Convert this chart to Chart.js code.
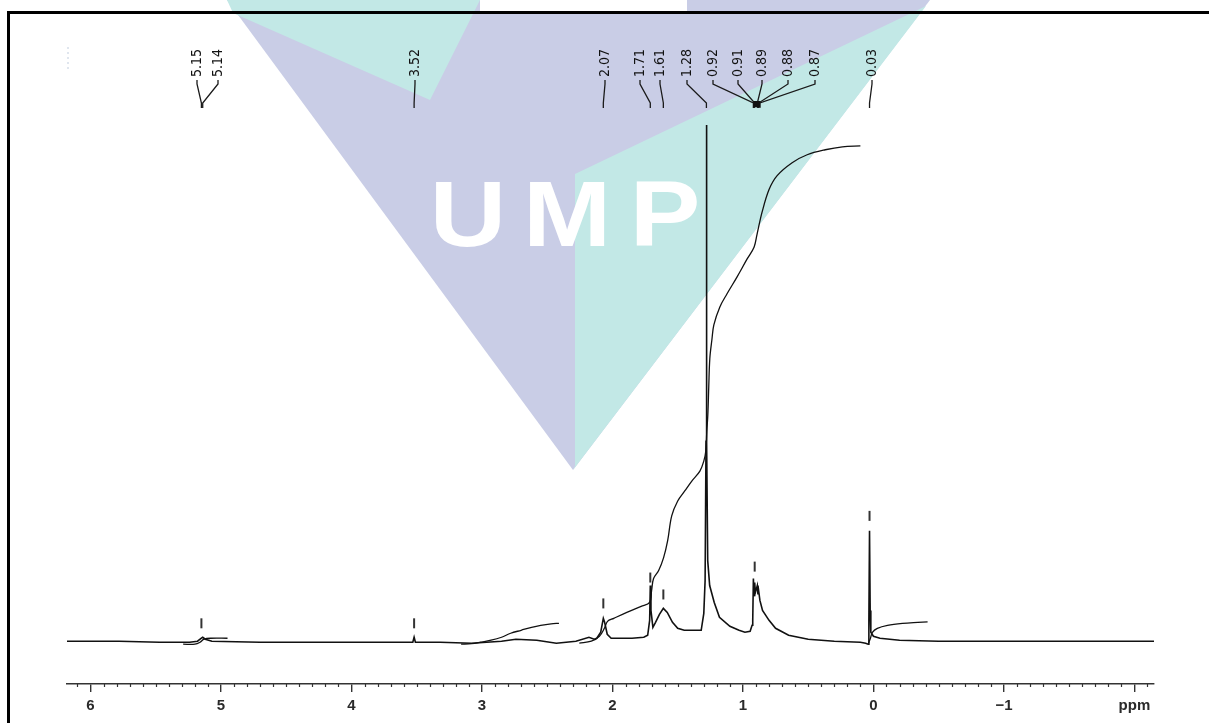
<!DOCTYPE html>
<html>
<head>
<meta charset="utf-8">
<script src="https://cdn.jsdelivr.net/npm/chart.js@4.4.1/dist/chart.umd.min.js"></script>
<style>
  html, body { margin: 0; padding: 0; background: #fff; }
  #wrap { position: relative; width: 1209px; height: 723px; }
  canvas { display: block; }
</style>
</head>
<body>
<div id="wrap"><canvas id="nmr" width="1209" height="723"></canvas></div>
<script>
// 1H NMR trace: chemical shift (ppm) and relative intensity
const shiftPpm = [
  6.18, 5.78, 5.47, 5.24, 5.18, 5.15, 5.14, 5.12, 5.07, 4.70, 4.16, 3.62,
  3.53, 3.52, 3.51, 3.32, 3.08, 2.85, 2.74, 2.58, 2.43, 2.28, 2.18, 2.14,
  2.12, 2.09, 2.07, 2.06, 2.04, 2.01, 1.95, 1.85, 1.76, 1.73, 1.715, 1.71,
  1.705, 1.69, 1.67, 1.64, 1.61, 1.58, 1.54, 1.50, 1.45, 1.38, 1.32, 1.30,
  1.29, 1.283, 1.28, 1.277, 1.27, 1.255, 1.22, 1.18, 1.10, 1.03, 0.985, 0.945,
  0.93, 0.925, 0.92, 0.915, 0.91, 0.905, 0.89, 0.885, 0.88, 0.87, 0.85, 0.80,
  0.75, 0.65, 0.50, 0.30, 0.10, 0.06, 0.04, 0.035, 0.03, 0.025, 0.02, 0.00,
  -0.05, -0.20, -0.50, -1.00, -1.50, -2.15
];
const intensity = [
  -0.1, -0.1, -0.2, -0.2, -0.1, 0.2, 0.3, 0.1, -0.1, -0.2, -0.2, -0.2,
  -0.2, 0.3, -0.2, -0.2, -0.3, -0.1, 0.1, 0.0, -0.3, -0.1, 0.3, 0.1,
  0.2, 0.8, 2.2, 1.8, 0.6, 0.2, 0.2, 0.2, 0.3, 0.5, 2.0, 5.5,
  3.0, 1.3, 1.8, 2.6, 3.2, 2.8, 1.8, 1.2, 1.0, 1.0, 1.0, 2.7,
  6.0, 20.0, 51.8, 20.0, 8.0, 5.5, 3.8, 2.3, 1.4, 1.0, 0.8, 0.9,
  1.5, 2.0, 6.2, 4.5, 5.8, 4.8, 5.5, 4.6, 5.0, 4.0, 3.0, 2.0,
  1.2, 0.5, 0.1, -0.1, -0.2, -0.3, -0.4, 2.0, 11.0, 3.0, 0.8, 0.4,
  0.2, 0.0, -0.1, -0.1, -0.1, -0.1
];

// Integral curves; null separates the integrated regions
const integralPpm = [
  5.29, 5.20, 5.16, 5.13, 5.08, 4.95, null,
  3.16, 3.08, 3.01, 2.93, 2.85, 2.78, 2.70, 2.62, 2.55, 2.47, 2.41, null,
  2.254, 2.162, 2.10, 2.062, 2.038, 1.99, 1.89, 1.78, 1.715, 1.70, 1.685, 1.646,
  1.608, 1.577, 1.546, 1.50, 1.446, 1.392, 1.33, 1.30, 1.285, 1.277, 1.269, 1.262,
  1.254, 1.238, 1.223, 1.177, 1.123, 1.046, 0.969, 0.915, 0.892, 0.854, 0.80, 0.738,
  0.623, 0.508, 0.369, 0.238, 0.10, null,
  0.038, 0.023, 0.008, -0.03, -0.108, -0.223, -0.34, -0.415
];
const integralValue = [
  -0.4, -0.4, -0.2, 0.1, 0.2, 0.2, null,
  -0.4, -0.35, -0.2, 0.0, 0.3, 0.7, 1.0, 1.3, 1.5, 1.65, 1.7, null,
  -0.3, -0.1, 0.4, 1.2, 1.9, 2.2, 2.8, 3.4, 3.8, 5.0, 6.2, 7.0,
  8.3, 10.0, 12.5, 14.0, 15.0, 16.0, 17.0, 18.0, 19.0, 21.0, 22.7, 25.5,
  28.3, 30.2, 31.7, 33.5, 34.8, 36.5, 38.3, 39.5, 40.8, 43.0, 45.3, 46.7,
  48.0, 48.8, 49.3, 49.6, 49.7, null,
  -0.3, 0.2, 0.8, 1.2, 1.5, 1.7, 1.8, 1.85
];

// Short peak-pick marks above the signals
const markPpm = [5.15, 3.52, 2.07, 1.71, 1.61, 0.91, 0.03];
const markLevel = [1.7, 1.7, 3.7, 6.3, 4.6, 7.4, 12.5];

// Picked peak labels
const peakLabels = ['5.15', '5.14', '3.52', '2.07', '1.71', '1.61', '1.28',
                    '0.92', '0.91', '0.89', '0.88', '0.87', '0.03'];

// Axis tick values (the last one carries the unit)
const tickValues = [6, 5, 4, 3, 2, 1, 0, -1, -2];
const tickText = ['6', '5', '4', '3', '2', '1', '0', '\u22121', 'ppm'];

// Layout of the label row: horizontal text centres in pixels
const labelTextX = [197, 218, 415, 605, 640, 660, 687, 713, 738, 762, 788, 815, 872];
const groupedLabels = ['0.92', '0.91', '0.89', '0.88', '0.87'];

const LAVENDER = '#c9cde6';
const TEAL = '#c2e8e6';

// Watermark logo behind the plot
const watermark = {
  id: 'watermark',
  beforeDraw(chart) {
    const ctx = chart.ctx;
    ctx.save();
    const poly = (pts, color) => {
      ctx.beginPath();
      ctx.moveTo(pts[0][0], pts[0][1]);
      for (let i = 1; i < pts.length; i++) ctx.lineTo(pts[i][0], pts[i][1]);
      ctx.closePath();
      ctx.fillStyle = color;
      ctx.fill();
    };
    poly([[227, 0], [930, 0], [573, 470]], LAVENDER);
    poly([[480, 0], [687, 0], [687, 11], [480, 11]], '#ffffff');
    poly([[227, 0], [480, 0], [430, 100], [233, 13]], TEAL);
    poly([[575, 174], [926, 6], [573, 470], [575, 466]], TEAL);
    ctx.fillStyle = '#ffffff';
    ctx.textAlign = 'center';
    ctx.textBaseline = 'alphabetic';
    ctx.font = 'bold 92px "Liberation Sans", Arial, sans-serif';
    [['U', 468], ['M', 567], ['P', 665]].forEach(([ch, x]) => {
      ctx.save();
      ctx.translate(x, 246);
      ctx.scale(1.15, 1);
      ctx.fillText(ch, 0, 0);
      ctx.restore();
    });
    ctx.restore();
  }
};

// Frame, minor ticks and the peak label row
const decorations = {
  id: 'decorations',
  afterDraw(chart) {
    const ctx = chart.ctx;
    const xs = chart.scales.x;
    const area = chart.chartArea;
    ctx.save();

    // minor ticks every 0.1 ppm
    ctx.strokeStyle = '#333';
    ctx.lineWidth = 1.2;
    for (let k = -21; k <= 61; k++) {
      if (k % 10 === 0) continue;
      const px = Math.round(xs.getPixelForValue(k / 10)) + 0.5;
      ctx.beginPath();
      ctx.moveTo(px, area.bottom);
      ctx.lineTo(px, area.bottom + 3);
      ctx.stroke();
    }

    // peak labels with leader lines
    ctx.strokeStyle = '#1a1a1a';
    ctx.lineWidth = 1.3;
    ctx.fillStyle = '#111';
    ctx.font = '14px "Liberation Sans Narrow", "DejaVu Sans Condensed", sans-serif';
    ctx.textBaseline = 'middle';
    ctx.textAlign = 'left';
    let gx = 0, gn = 0;
    peakLabels.forEach((lab, i) => {
      const tx = labelTextX[i];
      const px = xs.getPixelForValue(parseFloat(lab));
      ctx.save();
      ctx.translate(tx, 77);
      ctx.rotate(-Math.PI / 2);
      ctx.fillText(lab, 0, 0);
      ctx.restore();
      if (groupedLabels.includes(lab)) { gx += px; gn++; }
      ctx.beginPath();
      ctx.moveTo(tx, 80);
      ctx.lineTo(tx, 84);
      ctx.lineTo(px, 103);
      ctx.lineTo(px, 108);
      ctx.stroke();
    });
    if (gn) {
      const cx = gx / gn;
      ctx.fillRect(cx - 3.5, 101, 7, 6);
    }

    // faint cut-off mark at the upper left
    ctx.strokeStyle = 'rgba(150,170,200,0.45)';
    ctx.setLineDash([2, 3]);
    ctx.beginPath();
    ctx.moveTo(68, 47);
    ctx.lineTo(68, 72);
    ctx.stroke();
    ctx.setLineDash([]);

    // page frame (left and top rules)
    ctx.fillStyle = '#000';
    ctx.fillRect(7, 11, 3, 712);
    ctx.fillRect(7, 11, 1202, 3);
    ctx.restore();
  }
};

const spectrum = shiftPpm.map((x, i) => ({ x, y: intensity[i] }));
const integral = integralPpm.map((x, i) => ({ x, y: integralValue[i] }));
const marks = markPpm.map((x, i) => ({ x, y: markLevel[i] }));

new Chart(document.getElementById('nmr'), {
  type: 'line',
  data: {
    datasets: [
      {
        label: 'spectrum',
        data: spectrum,
        borderColor: '#111',
        borderWidth: 1.6,
        pointRadius: 0,
        tension: 0,
        fill: false
      },
      {
        label: 'integral',
        data: integral,
        borderColor: '#111',
        borderWidth: 1.3,
        pointRadius: 0,
        tension: 0.35,
        spanGaps: false,
        fill: false
      },
      {
        label: 'marks',
        type: 'scatter',
        data: marks,
        pointStyle: 'line',
        rotation: 90,
        radius: 5,
        borderColor: '#333',
        borderWidth: 2
      }
    ]
  },
  options: {
    responsive: false,
    animation: false,
    events: [],
    layout: { padding: { left: 67, right: 55, top: 103, bottom: 3 } },
    plugins: { legend: { display: false }, tooltip: { enabled: false } },
    scales: {
      x: {
        type: 'linear',
        reverse: true,
        min: -2.15,
        max: 6.18,
        afterBuildTicks(scale) {
          scale.ticks = tickValues.map(v => ({ value: v }));
        },
        ticks: {
          includeBounds: false,
          autoSkip: false,
          maxRotation: 0,
          padding: 5,
          color: '#2a2a2a',
          font: { family: '"Liberation Sans", Arial, sans-serif', size: 15, weight: 'bold' },
          callback(value) {
            const i = tickValues.indexOf(value);
            return i >= 0 ? tickText[i] : '';
          }
        },
        grid: {
          drawOnChartArea: false,
          drawTicks: true,
          tickLength: 8,
          color: '#333',
          lineWidth: 1.4
        },
        border: { display: true, color: '#333', width: 1.5 }
      },
      y: {
        display: false,
        min: -4.4,
        max: 54
      }
    }
  },
  plugins: [watermark, decorations]
});
</script>
</body>
</html>
